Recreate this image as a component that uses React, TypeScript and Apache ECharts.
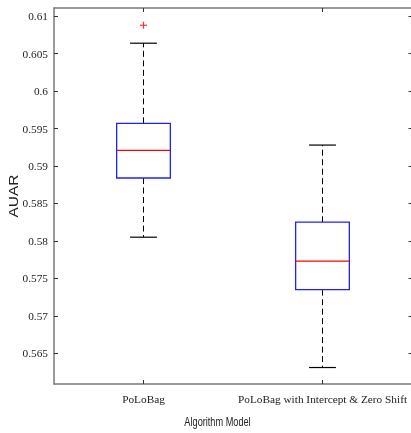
import React, { useEffect, useRef } from "react";
import * as echarts from "echarts";

const categories = ["PoLoBag", "PoLoBag with Intercept & Zero Shift"];
const whiskerLow = [0.5805, 0.5631];
const quartile1 = [0.5884, 0.5735];
const medians = [0.5921, 0.5773];
const quartile3 = [0.5957, 0.5825];
const whiskerHigh = [0.6064, 0.5928];
const outliers: [number, number][] = [[0, 0.6088]];
const yTicks = [0.565, 0.57, 0.575, 0.58, 0.585, 0.59, 0.595, 0.6, 0.605, 0.61];
const yMin = 0.5609;
const yMax = 0.6111;

export default function App() {
  const ref = useRef<HTMLDivElement>(null);
  useEffect(() => {
    if (!ref.current) return;
    const chart = echarts.init(ref.current, null, { renderer: "svg" });
    const boxData = categories.map((_, i) => [
      i,
      whiskerLow[i],
      quartile1[i],
      medians[i],
      quartile3[i],
      whiskerHigh[i],
    ]);
    const axisColor = "#7a7a7a";
    const labelFont = { fontFamily: "Liberation Serif", fontSize: 11.3, color: "#222" };
    chart.setOption({
      animation: false,
      grid: { left: 54, top: 8, width: 358, height: 376, outerBoundsMode: "none", containLabel: false },
      xAxis: [
        {
          type: "category",
          data: categories,
          position: "bottom",
          boundaryGap: true,
          axisLine: { show: true, lineStyle: { color: axisColor, width: 1.5 } },
          axisTick: { show: true, inside: true, alignWithLabel: true, interval: 0, length: 4, lineStyle: { color: "#333" } },
          axisLabel: { ...labelFont, margin: 9, interval: 0, hideOverlap: false },
          splitLine: { show: false },
        },
        {
          type: "category",
          data: categories,
          position: "top",
          boundaryGap: true,
          axisLine: { show: true, lineStyle: { color: axisColor, width: 1.5 } },
          axisTick: { show: true, inside: true, alignWithLabel: true, interval: 0, length: 4, lineStyle: { color: "#333" } },
          axisLabel: { show: false },
          splitLine: { show: false },
        },
      ],
      yAxis: [
        {
          type: "value",
          min: yMin,
          max: yMax,
          position: "left",
          axisLine: { show: true, lineStyle: { color: axisColor, width: 1.5 } },
          axisTick: { show: true, inside: true, length: 4, customValues: yTicks, lineStyle: { color: "#333" } },
          axisLabel: { ...labelFont, margin: 6, customValues: yTicks, formatter: (v: number) => String(+v.toFixed(3)) },
          splitLine: { show: false },
        },
        {
          type: "value",
          min: yMin,
          max: yMax,
          position: "right",
          axisLine: { show: false, lineStyle: { opacity: 0 } },
          axisTick: { show: true, inside: true, length: 3.5, customValues: yTicks, lineStyle: { color: "#333" } },
          axisLabel: { show: false },
          splitLine: { show: false },
        },
      ],
      series: [
        {
          type: "custom",
          xAxisIndex: 0,
          yAxisIndex: 0,
          data: boxData,
          renderItem: (params: any, api: any) => {
            const x = api.value(0);
            const lo = api.coord([x, api.value(1)]);
            const q1 = api.coord([x, api.value(2)]);
            const md = api.coord([x, api.value(3)]);
            const q3 = api.coord([x, api.value(4)]);
            const hi = api.coord([x, api.value(5)]);
            const band = api.size([1, 0])[0];
            const hw = band * 0.15;
            const cw = band * 0.075;
            const cx = lo[0];
            const dash = { stroke: "#000", lineWidth: 1, lineDash: [6, 3.5] };
            const solid = { stroke: "#000", lineWidth: 1.2 };
            return {
              type: "group",
              children: [
                { type: "line", shape: { x1: cx, y1: q3[1], x2: cx, y2: hi[1] }, style: dash },
                { type: "line", shape: { x1: cx, y1: q1[1], x2: cx, y2: lo[1] }, style: dash },
                { type: "line", shape: { x1: cx - cw, y1: hi[1], x2: cx + cw, y2: hi[1] }, style: solid },
                { type: "line", shape: { x1: cx - cw, y1: lo[1], x2: cx + cw, y2: lo[1] }, style: solid },
                {
                  type: "rect",
                  shape: { x: cx - hw, y: q3[1], width: hw * 2, height: q1[1] - q3[1] },
                  style: { fill: "#fff", stroke: "#2020ff", lineWidth: 1.3 },
                },
                {
                  type: "line",
                  shape: { x1: cx - hw, y1: md[1], x2: cx + hw, y2: md[1] },
                  style: { stroke: "#ff0000", lineWidth: 1.2 },
                },
              ],
            };
          },
        },
        {
          type: "custom",
          xAxisIndex: 0,
          yAxisIndex: 0,
          data: outliers,
          renderItem: (params: any, api: any) => {
            const p = api.coord([api.value(0), api.value(1)]);
            const s = 3.5;
            const st = { stroke: "#ff3030", lineWidth: 1.2 };
            return {
              type: "group",
              children: [
                { type: "line", shape: { x1: p[0] - s, y1: p[1], x2: p[0] + s, y2: p[1] }, style: st },
                { type: "line", shape: { x1: p[0], y1: p[1] - s, x2: p[0], y2: p[1] + s }, style: st },
              ],
            };
          },
        },
      ],
      graphic: [
        {
          type: "text",
          x: 217.5,
          y: 421.5,
          scaleX: 0.68,
          style: {
            text: "Algorithm Model",
            font: "13.5px 'Liberation Sans'",
            fill: "#222",
            align: "center",
            verticalAlign: "middle",
          },
        },
        {
          type: "text",
          x: 13.5,
          y: 196,
          rotation: Math.PI / 2,
          scaleY: 0.8,
          style: {
            text: "AUAR",
            font: "15.5px 'Liberation Sans'",
            fill: "#222",
            align: "center",
            verticalAlign: "middle",
          },
        },
      ],
    });
    return () => chart.dispose();
  }, []);
  return (
    <div
      ref={ref}
      style={{ position: "fixed", left: 0, top: 0, width: 411, height: 433 }}
    />
  );
}
